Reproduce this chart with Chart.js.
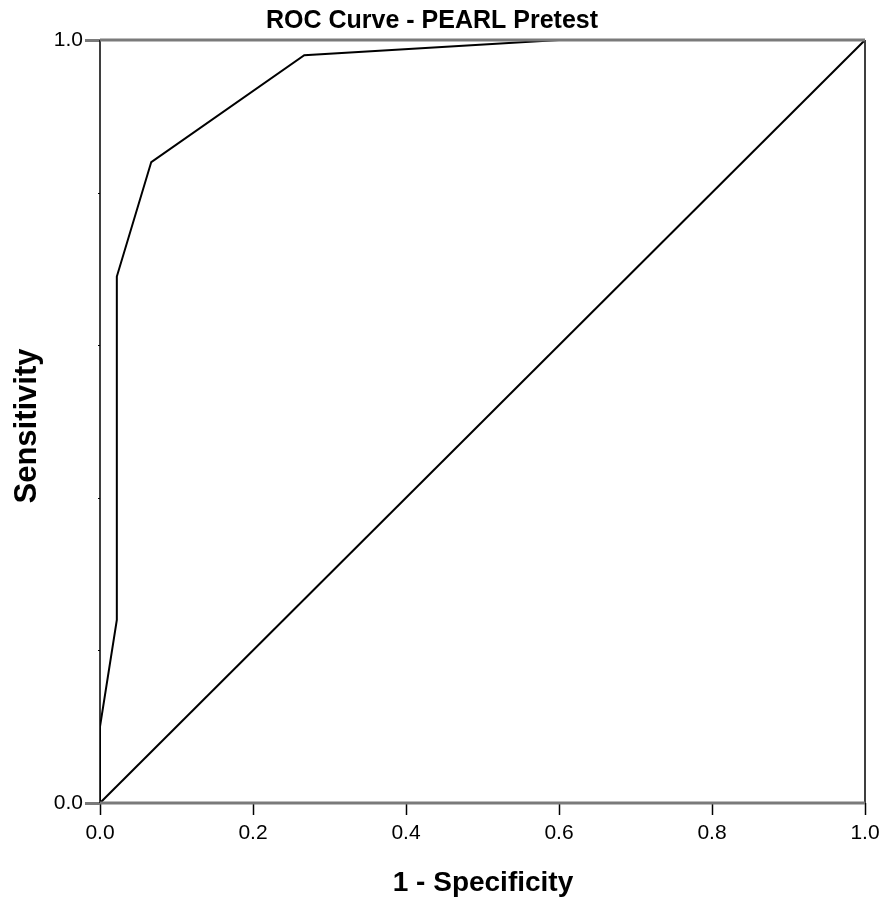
<!DOCTYPE html>
<html lang="en">
<head>
<meta charset="UTF-8">
<title>ROC Curve - PEARL Pretest</title>
<script src="https://cdn.jsdelivr.net/npm/chart.js"></script>
<style>
    html, body { margin: 0; padding: 0; background: #fff; }
    #wrap { width: 886px; height: 902px; }
</style>
</head>
<body>
<div id="wrap"><canvas id="roc" width="886" height="902"></canvas></div>
<script>
    // ROC points
    const fpr = [0, 0, 0.022, 0.022, 0.067, 0.267, 0.6, 1];
    const sensitivity = [0, 0.1, 0.24, 0.69, 0.84, 0.98, 1, 1];
    // reference diagonal
    const refX = [0, 1];
    const refY = [0, 1];
    const xTicks = [0, 0.2, 0.4, 0.6, 0.8, 1];
    const yTicks = [0, 0.2, 0.4, 0.6, 0.8, 1];
    const yLabelled = [0, 1];

    const FONT = '"Liberation Sans", Arial, sans-serif';

    const toPoints = (xs, ys) => xs.map((x, i) => ({ x: x, y: ys[i] }));

    // extra drawing: frame, minor ticks, title and axis titles
    const decor = {
        id: 'decor',
        afterDraw(chart) {
            const ctx = chart.ctx;
            const a = chart.chartArea;
            const ys = chart.scales.y;
            ctx.save();
            // left and right edges
            ctx.strokeStyle = '#000';
            ctx.lineWidth = 1.5;
            ctx.beginPath();
            ctx.moveTo(a.right, a.top); ctx.lineTo(a.right, a.bottom);
            ctx.moveTo(a.left, a.top); ctx.lineTo(a.left, a.bottom);
            ctx.stroke();
            // top and bottom edges, grey
            ctx.strokeStyle = '#7a7a7a';
            ctx.lineWidth = 3;
            ctx.beginPath();
            ctx.moveTo(a.left, a.top); ctx.lineTo(a.right, a.top);
            ctx.moveTo(a.left, a.bottom); ctx.lineTo(a.right, a.bottom);
            ctx.stroke();
            // tiny unlabelled ticks
            ctx.strokeStyle = '#000';
            ctx.lineWidth = 1;
            yTicks.forEach(v => {
                if (yLabelled.includes(v)) return;
                const py = Math.round(ys.getPixelForValue(v)) + 0.5;
                ctx.beginPath();
                ctx.moveTo(a.left - 2, py); ctx.lineTo(a.left, py);
                ctx.stroke();
            });
            // titles
            ctx.fillStyle = '#000';
            ctx.textAlign = 'center';
            ctx.textBaseline = 'alphabetic';
            ctx.font = 'bold 25px ' + FONT;
            ctx.fillText('ROC Curve - PEARL Pretest', 432, 28);
            ctx.font = 'bold 28px ' + FONT;
            ctx.fillText('1 - Specificity', 483, 891);
            ctx.translate(36, 426);
            ctx.rotate(-Math.PI / 2);
            ctx.font = 'bold 31px ' + FONT;
            ctx.fillText('Sensitivity', 0, 0);
            ctx.restore();
        }
    };

    new Chart(document.getElementById('roc'), {
        type: 'scatter',
        data: {
            datasets: [
                {
                    label: 'ROC',
                    data: toPoints(fpr, sensitivity),
                    showLine: true,
                    borderColor: '#000',
                    borderWidth: 2,
                    pointRadius: 0,
                    tension: 0
                },
                {
                    label: 'Reference',
                    data: toPoints(refX, refY),
                    showLine: true,
                    borderColor: '#000',
                    borderWidth: 2,
                    pointRadius: 0
                }
            ]
        },
        options: {
            responsive: false,
            animation: false,
            layout: { padding: { top: 40, right: 21, left: 0, bottom: 0 } },
            plugins: {
                legend: { display: false },
                tooltip: { enabled: false }
            },
            scales: {
                x: {
                    type: 'linear',
                    min: 0,
                    max: 1,
                    afterBuildTicks: s => { s.ticks = xTicks.map(v => ({ value: v })); },
                    afterFit: s => { s.height = 99; },
                    ticks: {
                        color: '#000',
                        font: { family: FONT, size: 21 },
                        padding: 6,
                        maxRotation: 0,
                        callback: v => v.toFixed(1)
                    },
                    grid: {
                        drawOnChartArea: false,
                        drawTicks: true,
                        tickLength: 12,
                        tickColor: '#000',
                        tickWidth: 1.5
                    },
                    border: { display: false }
                },
                y: {
                    type: 'linear',
                    min: 0,
                    max: 1,
                    afterBuildTicks: s => { s.ticks = yLabelled.map(v => ({ value: v })); },
                    afterFit: s => { s.width = 100; },
                    ticks: {
                        color: '#000',
                        font: { family: FONT, size: 21 },
                        padding: 2,
                        callback: v => v.toFixed(1)
                    },
                    grid: {
                        drawOnChartArea: false,
                        drawTicks: true,
                        tickLength: 15,
                        tickColor: '#7a7a7a',
                        tickWidth: 3
                    },
                    border: { display: false }
                }
            }
        },
        plugins: [decor]
    });
</script>
</body>
</html>
